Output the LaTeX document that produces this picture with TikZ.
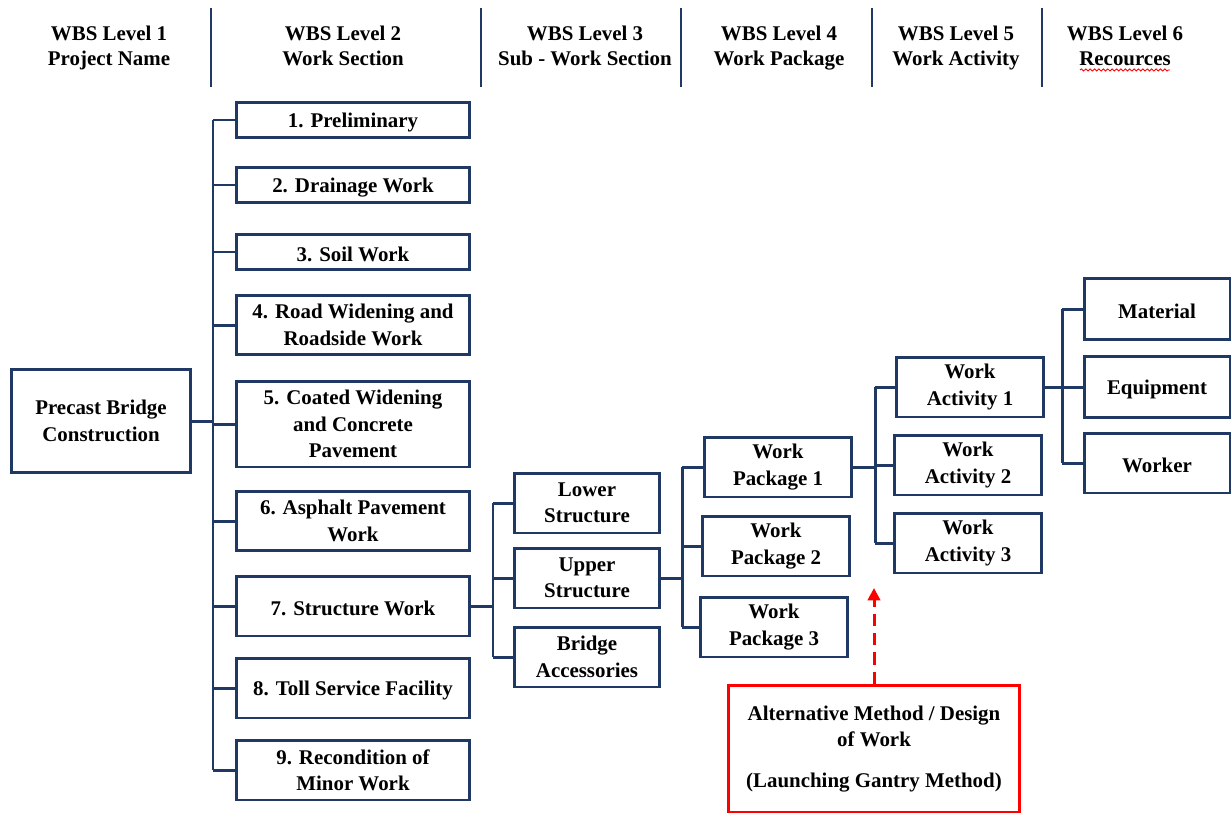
\documentclass[tikz,border=0pt]{standalone}
\usepackage{fontspec}
\setmainfont{Liberation Serif}
\usetikzlibrary{calc, arrows.meta, decorations.pathmorphing}
\definecolor{wbsblue}{HTML}{203864}
\tikzset{
    box/.style={draw=wbsblue, line width=1.7pt, fill=white, align=center,
        inner sep=0pt, font=\bfseries\fontsize{11.9}{15}\selectfont,
        execute at begin node=\rule{0pt}{11pt}},
    link/.style={draw=wbsblue, line width=1.7pt},
    head/.style={align=center, font=\bfseries\fontsize{11.9}{14}\selectfont,
        execute at begin node=\rule{0pt}{10pt}, execute at end node=\strut}
}

\begin{document}
\begin{tikzpicture}[x=0.02cm, y=-0.02cm]
\useasboundingbox (0,0) rectangle (1231,812);

% --- Kopfzeile: WBS-Ebenen ---
\node[head] (h1) at (109,49.5) {WBS Level 1\\Project Name};
\node[head] (h2) at (343,49.5) {WBS Level 2\\Work Section};
\node[head] (h3) at (585,49.5) {WBS Level 3\\Sub - Work Section};
\node[head] (h4) at (779,49.5) {WBS Level 4\\Work Package};
\node[head] (h5) at (956,49.5) {WBS Level 5\\Work Activity};
\node[head] (h6) at (1125,49.5) {WBS Level 6\\Recources};
\foreach \x in {211,481,681,872,1042}
    \draw[link, line width=1.4pt] (\x,8) -- (\x,87);
\draw[red, line width=0.5pt, decorate,
    decoration={snake, amplitude=0.6pt, segment length=2.5pt}]
    ($(h6.south)+(-45,-9)$) -- ($(h6.south)+(45,-9)$);

% --- Ebene 1 ---
\node[box, minimum width=3.6cm, minimum height=2.06cm] (root) at (101,421)
    {Precast Bridge\\Construction};

% --- Ebene 2 ---
\node[box, minimum width=4.68cm, minimum height=0.7cm] (s1) at (353,120) {1. Preliminary};
\node[box, minimum width=4.68cm, minimum height=0.7cm] (s2) at (353,185) {2. Drainage Work};
\node[box, minimum width=4.68cm, minimum height=0.7cm] (s3) at (353,252) {3. Soil Work};
\node[box, minimum width=4.68cm, minimum height=1.18cm] (s4) at (353,325)
    {4. Road Widening and\\Roadside Work};
\node[box, minimum width=4.68cm, minimum height=1.72cm] (s5) at (353,424)
    {5. Coated Widening\\and Concrete\\Pavement};
\node[box, minimum width=4.68cm, minimum height=1.18cm] (s6) at (353,521)
    {6. Asphalt Pavement\\Work};
\node[box, minimum width=4.68cm, minimum height=1.2cm] (s7) at (353,606) {7. Structure Work};
\node[box, minimum width=4.68cm, minimum height=1.2cm] (s8) at (353,688) {8. Toll Service Facility};
\node[box, minimum width=4.68cm, minimum height=1.2cm] (s9) at (353,770)
    {9. Recondition of\\Minor Work};

\coordinate (t2) at (213,0);
\draw[link] (root.east) -- (root.east -| t2);
\draw[link] (s1.west -| t2) -- (s9.west -| t2);
\foreach \n in {s1,s2,s3,s4,s5,s6,s7,s8,s9}
    \draw[link] (\n.west -| t2) -- (\n.west);

% --- Ebene 3 ---
\node[box, minimum width=2.92cm, minimum height=1.2cm] (sub1) at (587,503) {Lower\\Structure};
\node[box, minimum width=2.92cm, minimum height=1.2cm] (sub2) at (587,578) {Upper\\Structure};
\node[box, minimum width=2.92cm, minimum height=1.2cm] (sub3) at (587,657) {Bridge\\Accessories};

\coordinate (t3) at (493,0);
\draw[link] (s7.east) -- (s7.east -| t3);
\draw[link] (sub1.west -| t3) -- (sub3.west -| t3);
\foreach \n in {sub1,sub2,sub3}
    \draw[link] (\n.west -| t3) -- (\n.west);

% --- Ebene 4 ---
\node[box, minimum width=2.94cm, minimum height=1.2cm] (wp1) at (778,467) {Work\\Package 1};
\node[box, minimum width=2.94cm, minimum height=1.2cm] (wp2) at (776,546) {Work\\Package 2};
\node[box, minimum width=2.94cm, minimum height=1.2cm] (wp3) at (774,627) {Work\\Package 3};

\coordinate (t4) at (682,0);
\draw[link] (sub2.east) -- (sub2.east -| t4);
\draw[link] (wp1.west -| t4) -- (wp3.west -| t4);
\foreach \n in {wp1,wp2,wp3}
    \draw[link] (\n.west -| t4) -- (\n.west);

% --- Ebene 5 ---
\node[box, minimum width=2.94cm, minimum height=1.2cm] (wa1) at (970,387) {Work\\Activity 1};
\node[box, minimum width=2.94cm, minimum height=1.2cm] (wa2) at (968,465) {Work\\Activity 2};
\node[box, minimum width=2.94cm, minimum height=1.2cm] (wa3) at (968,543) {Work\\Activity 3};

\coordinate (t5) at (875,0);
\draw[link] (wp1.east) -- (wp1.east -| t5);
\draw[link] (wa1.west -| t5) -- (wa3.west -| t5);
\foreach \n in {wa1,wa2,wa3}
    \draw[link] (\n.west -| t5) -- (\n.west);

% --- Ebene 6 ---
\node[box, minimum width=2.92cm, minimum height=1.22cm] (r1) at (1157,309) {Material};
\node[box, minimum width=2.92cm, minimum height=1.22cm] (r2) at (1157,387) {Equipment};
\node[box, minimum width=2.92cm, minimum height=1.2cm] (r3) at (1157,463) {Worker};

\coordinate (t6) at (1062,0);
\draw[link] (wa1.east) -- (wa1.east -| t6);
\draw[link] (r1.west -| t6) -- (r3.west -| t6);
\foreach \n in {r1,r2,r3}
    \draw[link] (\n.west -| t6) -- (\n.west);

% --- Alternative ---
\node[box, draw=red, minimum width=5.84cm, minimum height=2.54cm] (alt) at (874,749)
    {Alternative Method / Design\\of Work\\[8pt](Launching Gantry Method)};
\coordinate (tip) at (874,588);
\draw[red, line width=1.7pt, dash pattern=on 7pt off 4pt,
    -{Triangle[width=7pt, length=7pt]}] (alt.north) -- (tip);

\end{tikzpicture}
\end{document}
